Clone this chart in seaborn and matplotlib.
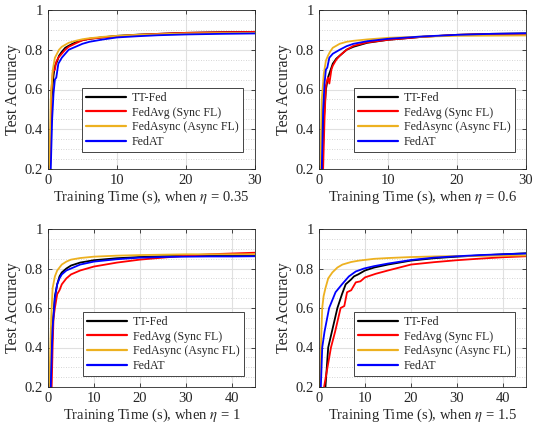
import numpy as np
import pandas as pd
import matplotlib
matplotlib.use("Agg")
import matplotlib.pyplot as plt
from matplotlib.ticker import MultipleLocator, FormatStrFormatter
import seaborn as sns

methods = ["TT-Fed", "FedAvg (Sync FL)", "FedAsync (Async FL)", "FedAT"]
colors = ["#000000", "#ff0000", "#edb120", "#0000ff"]
etas = ["0.35", "0.6", "1", "1.5"]
xmax = [30, 30, 45, 45]

# ---- eta = 0.35 ----
t1_tt = [0.3, 0.5, 0.8, 1.0, 1.3, 1.6, 2.0, 2.5, 3.0, 4.0, 5.0, 6.0, 8.0, 10, 13, 16, 20, 25, 30]
a1_tt = [0.20, 0.55, 0.67, 0.72, 0.74, 0.77, 0.79, 0.81, 0.82, 0.838, 0.848, 0.855, 0.863, 0.870, 0.876, 0.880, 0.885, 0.888, 0.890]
t1_avg = [0.3, 0.5, 0.7, 1.0, 1.2, 1.5, 2.0, 2.5, 3.0, 4.0, 5.0, 6.0, 8.0, 10, 13, 16, 20, 25, 30]
a1_avg = [0.20, 0.60, 0.69, 0.70, 0.74, 0.76, 0.78, 0.80, 0.815, 0.832, 0.848, 0.855, 0.862, 0.868, 0.875, 0.880, 0.885, 0.888, 0.890]
t1_asy = [0.2, 0.4, 0.7, 1.0, 1.3, 1.6, 2.0, 2.5, 3.0, 4.0, 5.0, 6.0, 8.0, 10, 13, 16, 20, 25, 30]
a1_asy = [0.20, 0.55, 0.70, 0.76, 0.78, 0.80, 0.815, 0.825, 0.835, 0.845, 0.853, 0.858, 0.865, 0.870, 0.875, 0.878, 0.882, 0.884, 0.885]
t1_at = [0.4, 0.6, 0.8, 1.0, 1.2, 1.5, 2.0, 2.5, 3.0, 4.0, 5.0, 6.0, 8.0, 10, 13, 16, 20, 25, 30]
a1_at = [0.20, 0.45, 0.58, 0.65, 0.66, 0.73, 0.76, 0.78, 0.80, 0.815, 0.830, 0.840, 0.852, 0.862, 0.868, 0.873, 0.877, 0.880, 0.882]

# ---- eta = 0.6 ----
t2_tt = [0.5, 0.7, 1.0, 1.3, 1.6, 2.0, 2.5, 3.0, 4.0, 5.0, 7.0, 10, 15, 20, 25, 30]
a2_tt = [0.20, 0.45, 0.60, 0.66, 0.69, 0.73, 0.755, 0.77, 0.80, 0.815, 0.835, 0.850, 0.865, 0.875, 0.880, 0.882]
t2_avg = [0.6, 0.8, 1.0, 1.3, 1.5, 1.8, 2.0, 2.5, 3.0, 4.0, 5.0, 7.0, 10, 15, 20, 25, 30]
a2_avg = [0.20, 0.45, 0.62, 0.66, 0.63, 0.70, 0.72, 0.75, 0.77, 0.80, 0.82, 0.837, 0.850, 0.865, 0.875, 0.879, 0.880]
t2_asy = [0.2, 0.4, 0.7, 1.0, 1.3, 1.6, 2.0, 2.5, 3.0, 4.0, 5.0, 7.0, 10, 15, 20, 25, 30]
a2_asy = [0.20, 0.55, 0.68, 0.745, 0.77, 0.79, 0.81, 0.82, 0.83, 0.84, 0.845, 0.852, 0.860, 0.866, 0.870, 0.871, 0.872]
t2_at = [0.4, 0.6, 0.8, 1.0, 1.2, 1.5, 2.0, 2.5, 3.0, 4.0, 5.0, 7.0, 10, 15, 20, 25, 30]
a2_at = [0.20, 0.50, 0.63, 0.70, 0.71, 0.76, 0.78, 0.79, 0.80, 0.818, 0.830, 0.843, 0.855, 0.867, 0.875, 0.880, 0.883]

# ---- eta = 1 ----
t3_tt = [0.6, 0.8, 1.0, 1.5, 2.0, 2.5, 3.0, 4.0, 5.0, 7.0, 10, 15, 20, 25, 30, 35, 40, 45]
a3_tt = [0.20, 0.38, 0.50, 0.66, 0.72, 0.76, 0.78, 0.80, 0.815, 0.830, 0.842, 0.852, 0.858, 0.862, 0.864, 0.865, 0.865, 0.866]
t3_avg = [0.8, 1.0, 1.2, 1.5, 2.0, 2.5, 3.0, 4.0, 5.0, 7.0, 10, 15, 20, 25, 30, 35, 40, 45]
a3_avg = [0.20, 0.40, 0.55, 0.60, 0.67, 0.69, 0.72, 0.75, 0.77, 0.79, 0.81, 0.83, 0.845, 0.855, 0.865, 0.872, 0.876, 0.880]
t3_asy = [0.3, 0.5, 0.7, 1.0, 1.5, 2.0, 3.0, 4.0, 5.0, 7.0, 10, 15, 20, 25, 30, 35, 40, 45]
a3_asy = [0.20, 0.40, 0.55, 0.70, 0.76, 0.79, 0.82, 0.835, 0.845, 0.853, 0.860, 0.865, 0.868, 0.870, 0.872, 0.872, 0.872, 0.872]
t3_at = [0.6, 0.8, 1.0, 1.5, 2.0, 2.5, 3.0, 4.0, 5.0, 7.0, 10, 15, 20, 25, 30, 35, 40, 45]
a3_at = [0.20, 0.36, 0.50, 0.65, 0.72, 0.75, 0.77, 0.79, 0.80, 0.82, 0.835, 0.847, 0.855, 0.858, 0.860, 0.861, 0.861, 0.862]

# ---- eta = 1.5 ----
t4_tt = [1.4, 2.0, 2.5, 3.0, 4.0, 5.0, 5.8, 7.0, 7.6, 8.5, 10, 12, 15, 20, 25, 30, 35, 40, 45]
a4_tt = [0.20, 0.40, 0.45, 0.50, 0.60, 0.67, 0.72, 0.745, 0.76, 0.77, 0.79, 0.805, 0.820, 0.840, 0.852, 0.860, 0.866, 0.872, 0.877]
t4_avg = [1.1, 2.0, 2.6, 3.5, 4.0, 4.7, 5.5, 6.1, 7.0, 8.0, 9.0, 10, 12.3, 15, 20, 25, 30, 35, 40, 45]
a4_avg = [0.20, 0.32, 0.40, 0.48, 0.53, 0.60, 0.61, 0.68, 0.69, 0.73, 0.735, 0.755, 0.773, 0.790, 0.820, 0.832, 0.842, 0.850, 0.857, 0.862]
t4_asy = [0.2, 0.4, 0.7, 1.0, 1.4, 2.0, 2.9, 4.0, 5.1, 7.0, 8.7, 12, 15, 20, 25, 30, 35, 40, 45]
a4_asy = [0.20, 0.40, 0.60, 0.66, 0.70, 0.75, 0.78, 0.805, 0.82, 0.833, 0.840, 0.849, 0.853, 0.858, 0.861, 0.863, 0.864, 0.865, 0.866]
t4_at = [0.4, 0.7, 1.2, 2.2, 3.6, 5.0, 6.5, 8.0, 9.8, 12, 15, 20, 25, 30, 35, 40, 45]
a4_at = [0.20, 0.40, 0.48, 0.60, 0.68, 0.72, 0.76, 0.785, 0.80, 0.812, 0.825, 0.843, 0.855, 0.862, 0.868, 0.872, 0.876]

panels = [
    [(t1_tt, a1_tt), (t1_avg, a1_avg), (t1_asy, a1_asy), (t1_at, a1_at)],
    [(t2_tt, a2_tt), (t2_avg, a2_avg), (t2_asy, a2_asy), (t2_at, a2_at)],
    [(t3_tt, a3_tt), (t3_avg, a3_avg), (t3_asy, a3_asy), (t3_at, a3_at)],
    [(t4_tt, a4_tt), (t4_avg, a4_avg), (t4_asy, a4_asy), (t4_at, a4_at)],
]

sns.set_style("ticks")
plt.rcParams["font.family"] = ["Liberation Serif", "DejaVu Serif"]
plt.rcParams["mathtext.fontset"] = "stix"
plt.rcParams["xtick.direction"] = "in"
plt.rcParams["ytick.direction"] = "in"

fig = plt.figure(figsize=(5.4, 4.25), dpi=100)
W, H = 540, 425
boxes = [(48, 10, 207, 159), (319, 10, 207, 159), (48, 229, 207, 158), (319, 229, 207, 158)]
legend_anchor = [(0.165, 0.107), (0.17, 0.107), (0.17, 0.07), (0.17, 0.07)]

for i, (l, t, w, h) in enumerate(boxes):
    ax = fig.add_axes([l / W, 1 - (t + h) / H, w / W, h / H])
    rows = []
    for m, (tt, aa) in zip(methods, panels[i]):
        for x, y in zip(tt, aa):
            rows.append({"time": x, "acc": y, "method": m})
    df = pd.DataFrame(rows)
    sns.lineplot(data=df, x="time", y="acc", hue="method", hue_order=methods,
                 palette=colors, estimator=None, sort=False, lw=1.3, ax=ax)
    ax.set_xlim(0, xmax[i])
    ax.set_ylim(0.2, 1.0)
    ax.xaxis.set_major_locator(MultipleLocator(10))
    ax.yaxis.set_major_locator(MultipleLocator(0.2))
    ax.yaxis.set_minor_locator(MultipleLocator(0.05))
    ax.yaxis.set_major_formatter(FormatStrFormatter("%g"))
    ax.grid(True, which="major", color="#e0e0e0", lw=0.8, ls="-")
    ax.grid(True, which="minor", axis="y", color="#c8c8c8", lw=0.6, ls=(0, (1, 2)))
    ax.set_axisbelow(True)
    ax.tick_params(which="major", length=3, width=0.6, labelsize=10.5, colors="#262626",
                   top=True, right=True)
    ax.tick_params(which="minor", length=0)
    for s in ax.spines.values():
        s.set_color("#262626")
        s.set_linewidth(0.6)
    ax.set_xlabel(rf"Training Time (s), when $\eta$ = {etas[i]}", fontsize=10.5, labelpad=1)
    ax.set_ylabel("Test Accuracy", fontsize=11.5, labelpad=3)
    leg = ax.legend(loc="lower left", bbox_to_anchor=legend_anchor[i], fontsize=8.6,
                    handlelength=3.3, labelspacing=0.22, borderpad=0.35, borderaxespad=0,
                    handletextpad=0.5, fancybox=False, framealpha=1, edgecolor="#262626")
    leg.get_frame().set_linewidth(0.6)
    for ln in leg.get_lines():
        ln.set_linewidth(1.6)

fig.savefig("out.png", dpi=100)
